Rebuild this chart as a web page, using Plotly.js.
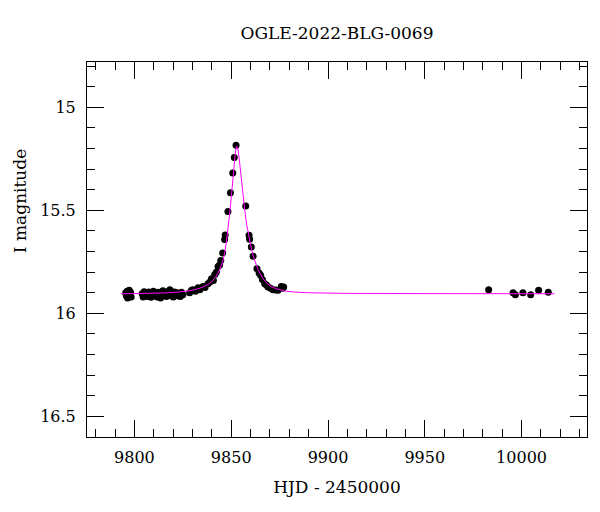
<!DOCTYPE html>
<html>
<head>
<meta charset="utf-8">
<script src="https://cdn.plot.ly/plotly-3.0.1.min.js"></script>
<style>html,body{margin:0;padding:0;background:#fff;}</style>
</head>
<body>
<div id="chart" style="width:600px;height:512px;"></div>
<script>
// Observed photometry (HJD - 2450000, I magnitude)
const obsT = [
  9795.5, 9795.8, 9796.2, 9796.5, 9796.9, 9797.3, 9797.6, 9798.0, 9798.3,
  9804.0, 9804.5, 9805.0, 9805.6, 9806.2, 9806.8, 9807.4, 9808.0, 9808.6, 9809.2, 9809.8,
  9810.5, 9811.1, 9811.7, 9812.3, 9812.9, 9813.5, 9814.1, 9814.7, 9815.3, 9815.9,
  9816.5, 9817.1, 9817.7, 9818.3, 9818.9, 9819.5, 9820.1, 9820.7, 9821.3, 9821.9,
  9822.5, 9823.1, 9823.7, 9824.3, 9825.0,
  9828.5, 9829.5, 9830.3, 9831.5, 9832.9, 9833.8, 9835.4, 9836.5, 9838.0, 9839.0,
  9839.8, 9840.8, 9841.5, 9842.3, 9843.2, 9844.0, 9844.6, 9845.6, 9846.6, 9846.9,
  9848.3, 9849.6, 9850.8, 9851.6, 9852.5,
  9857.5, 9859.2, 9859.5, 9860.4, 9861.3, 9863.3, 9864.4, 9865.2, 9866.1, 9867.3,
  9868.2, 9869.0, 9870.3, 9871.6, 9873.0, 9874.2, 9875.9, 9876.6, 9877.1,
  9983.0, 9995.6, 9996.8, 10000.7, 10004.7, 10008.8, 10013.8
];
const obsMag = [
  15.900, 15.915, 15.893, 15.925, 15.905, 15.888, 15.912, 15.897, 15.920,
  15.905, 15.920, 15.895, 15.912, 15.900, 15.918, 15.896, 15.908, 15.922, 15.902, 15.893,
  15.912, 15.905, 15.920, 15.898, 15.910, 15.925, 15.904, 15.890, 15.912, 15.900,
  15.918, 15.895, 15.908, 15.885, 15.915, 15.902, 15.920, 15.896, 15.910, 15.900,
  15.915, 15.905, 15.918, 15.898, 15.910,
  15.900, 15.888, 15.885, 15.893, 15.876, 15.885, 15.869, 15.875, 15.856, 15.848,
  15.832, 15.840, 15.811, 15.800, 15.772, 15.765, 15.743, 15.707, 15.642, 15.620,
  15.506, 15.414, 15.319, 15.244, 15.184,
  15.479, 15.621, 15.640, 15.678, 15.723, 15.783, 15.804, 15.815, 15.835, 15.856,
  15.862, 15.872, 15.878, 15.885, 15.886, 15.888, 15.869, 15.878, 15.872,
  15.885, 15.900, 15.910, 15.900, 15.910, 15.888, 15.898
];
// Model curve
const modelT = [
  9793, 9805, 9815, 9822, 9828, 9832, 9835, 9838, 9840, 9842,
  9844, 9845.5, 9846.5, 9847.5, 9848.5, 9849.5, 9850.5, 9851.3, 9852.0, 9852.7,
  9853.4, 9854.2, 9855.0, 9856.0, 9857.0, 9858.0, 9859.0, 9860.5, 9862, 9864,
  9866, 9868, 9870, 9873, 9877, 9882, 9890, 9910, 9950, 10000, 10017
];
const modelMag = [
  15.905, 15.904, 15.901, 15.897, 15.891, 15.883, 15.874, 15.860, 15.845, 15.823,
  15.790, 15.752, 15.712, 15.655, 15.580, 15.490, 15.390, 15.300, 15.230, 15.188,
  15.195, 15.255, 15.330, 15.420, 15.500, 15.570, 15.625, 15.690, 15.740, 15.790,
  15.825, 15.850, 15.866, 15.880, 15.890, 15.896, 15.900, 15.903, 15.904, 15.905, 15.905
];
const titleText = 'OGLE-2022-BLG-0069';
const xTitle = 'HJD - 2450000';
const yTitle = 'I magnitude';

const FONT = 'DejaVu Serif, Liberation Serif, serif';

const traces = [
  {
    x: obsT, y: obsMag, type: 'scatter', mode: 'markers',
    marker: {color: '#000', size: 7, symbol: 'circle'},
    hoverinfo: 'x+y', showlegend: false
  },
  {
    x: modelT, y: modelMag, type: 'scatter', mode: 'lines',
    line: {color: '#ff00ff', width: 1},
    hoverinfo: 'skip', showlegend: false
  }
];

const axisCommon = {
  showgrid: false, zeroline: false,
  showline: true, linecolor: '#000', linewidth: 1,
  mirror: 'allticks', ticks: 'inside', tickcolor: '#000', tickwidth: 1, ticklen: 17,
  tickfont: {family: FONT, size: 16, color: '#000'}
};

const layout = {
  width: 600, height: 512,
  paper_bgcolor: '#fff', plot_bgcolor: '#fff',
  margin: {l: 87, r: 13, t: 62, b: 75},
  font: {family: FONT, color: '#000'},
  title: {text: titleText, font: {family: FONT, size: 17, color: '#000'},
          xref: 'paper', x: 0.5, xanchor: 'center', yref: 'container', y: 1 - 33/512, yanchor: 'middle'},
  xaxis: Object.assign({}, axisCommon, {
    range: [9775.5, 10033.8], tick0: 9800, dtick: 50, tickformat: 'd',
    minor: {dtick: 10, ticklen: 8, ticks: 'inside', tickcolor: '#000', tickwidth: 1},
    ticklabelstandoff: 6,
    title: {text: xTitle, font: {family: FONT, size: 17, color: '#000'}, standoff: 14}
  }),
  yaxis: Object.assign({}, axisCommon, {
    range: [16.6, 14.78], tick0: 15, dtick: 0.5,
    minor: {dtick: 0.1, ticklen: 8, ticks: 'inside', tickcolor: '#000', tickwidth: 1},
    ticklabelstandoff: 7
  }),
  annotations: [{
    text: yTitle, textangle: -90, showarrow: false,
    xref: 'paper', yref: 'paper', x: -0.134, y: 0.629,
    xanchor: 'center', yanchor: 'middle',
    font: {family: FONT, size: 17, color: '#000'}
  }]
};

Plotly.newPlot('chart', traces, layout, {displayModeBar: false, staticPlot: true});
</script>
</body>
</html>
